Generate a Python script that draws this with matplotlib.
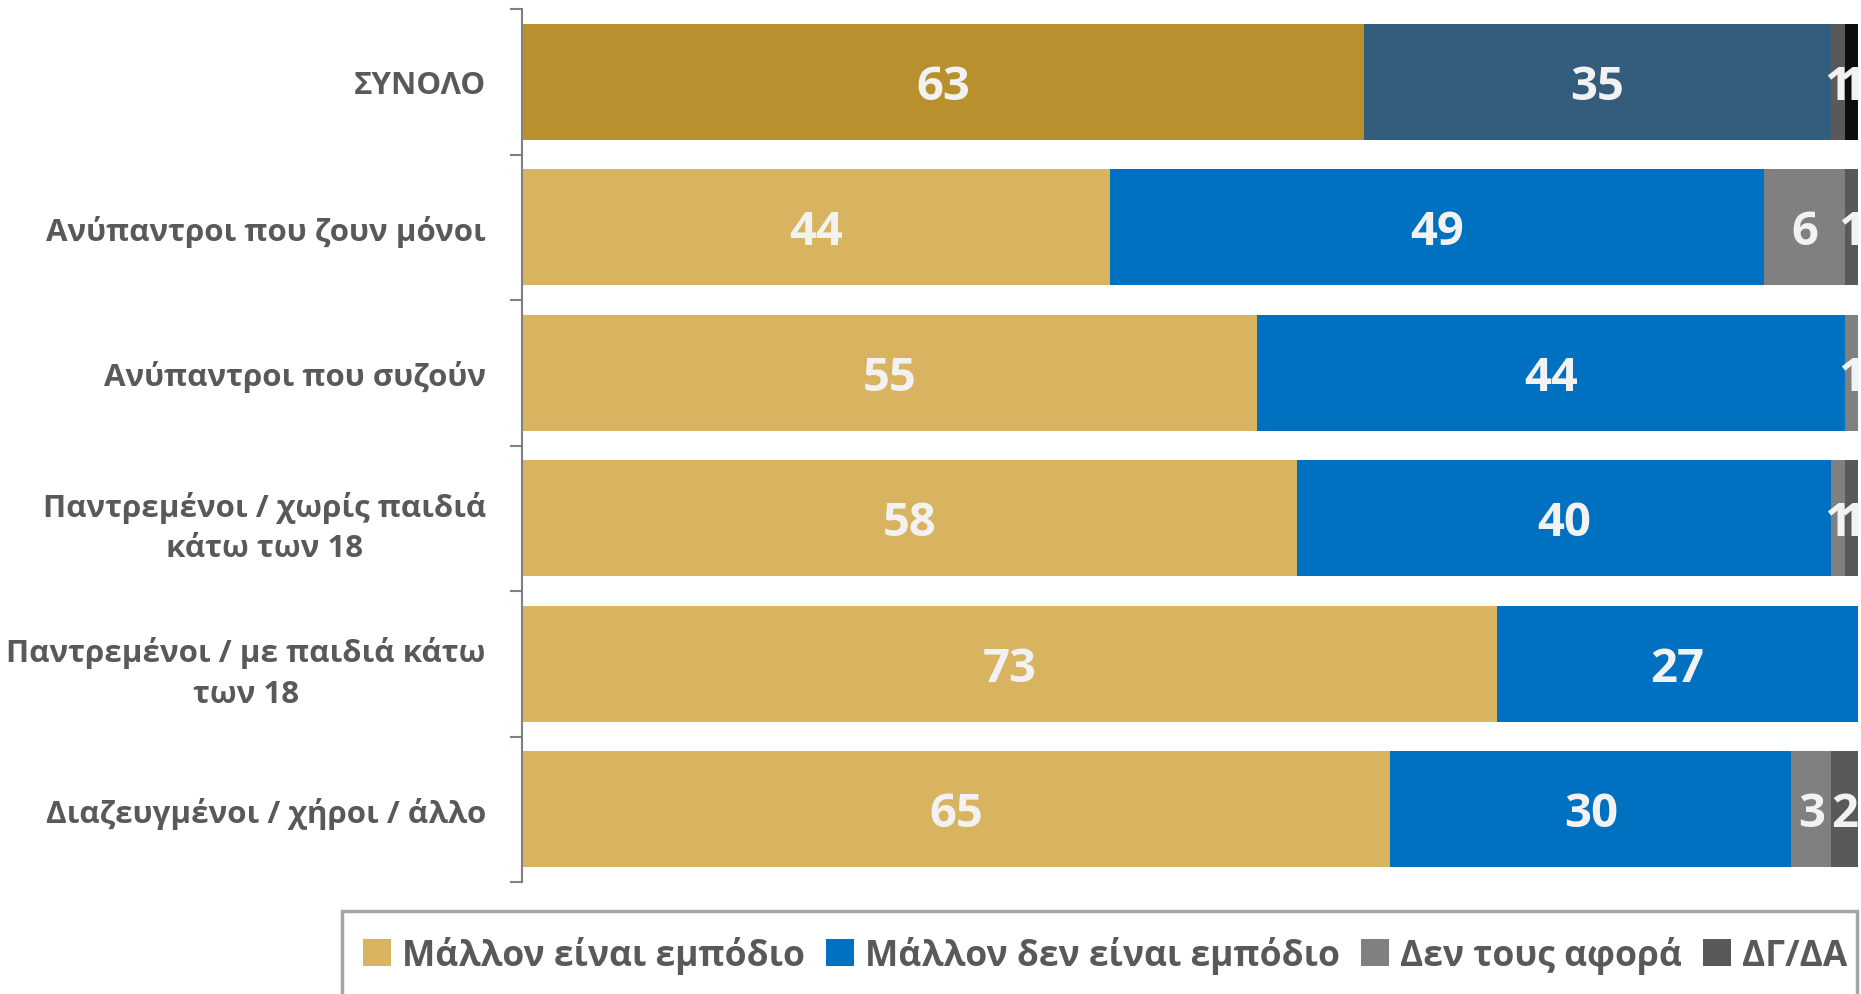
import matplotlib
matplotlib.use("Agg")
import matplotlib.pyplot as plt
from matplotlib.patches import Rectangle, Patch
import numpy as np

plt.rcParams['font.family'] = ['Open Sans', 'DejaVu Sans']

categories = [
    "ΣΥΝΟΛΟ",
    "Ανύπαντροι που ζουν μόνοι",
    "Ανύπαντροι που συζούν",
    "Παντρεμένοι / χωρίς παιδιά\nκάτω των 18",
    "Παντρεμένοι / με παιδιά κάτω\nτων 18",
    "Διαζευγμένοι / χήροι / άλλο",
]
series_names = ["Μάλλον είναι εμπόδιο", "Μάλλον δεν είναι εμπόδιο", "Δεν τους αφορά", "ΔΓ/ΔΑ"]
obstacle = [63, 44, 55, 58, 73, 65]
not_obstacle = [35, 49, 44, 40, 27, 30]
not_concerned = [1, 6, 1, 1, 0, 3]
dk_na = [1, 1, 0, 1, 0, 2]

series_values = [obstacle, not_obstacle, not_concerned, dk_na]
colors = ["#D8B360", "#0070C0", "#808080", "#595959"]
total_colors = ["#B8902E", "#335C7D", "#595959", "#0D0D0D"]

label_color = "#595959"
value_color = "#F2F2F2"

fig = plt.figure(figsize=(18.61, 9.95), dpi=100)
ax = fig.add_axes([522 / 1861, 112 / 995, 1336 / 1861, 873 / 995])

y = np.arange(len(categories))
left = np.zeros(len(categories))
for s, vals in enumerate(series_values):
    vals = np.array(vals, dtype=float)
    cols = [total_colors[s] if i == 0 else colors[s] for i in range(len(categories))]
    ax.barh(y, vals, left=left, height=0.8, color=cols, edgecolor="none")
    for i, v in enumerate(vals):
        if v > 0:
            ax.text(left[i] + v / 2, y[i] + 0.03, f"{int(v)}", ha="center", va="center",
                    color=value_color, fontsize=34, fontweight="bold", clip_on=False)
    left += vals

ax.set_xlim(0, 100)
ax.set_ylim(len(categories) - 0.5, -0.5)
ax.set_yticks(y)
ax.set_yticklabels(categories, fontsize=22.5, fontweight="bold", color=label_color,
                   multialignment="center", linespacing=1.45)
ax.tick_params(axis="y", which="major", length=0, pad=26)
ax.set_yticks(np.arange(-0.5, len(categories), 1.0), minor=True)
ax.tick_params(axis="y", which="minor", length=9, width=1.5, color="#808080")
ax.set_xticks([])
for side in ["top", "right", "bottom"]:
    ax.spines[side].set_visible(False)
ax.spines["left"].set_color("#808080")
ax.spines["left"].set_linewidth(1.5)

# Legend frame, running off the bottom and right of the figure
frame = Rectangle((342 / 1861, -0.05), 1515 / 1861, (83 / 995) + 0.05,
                  transform=fig.transFigure, facecolor="white",
                  edgecolor="#A6A6A6", linewidth=2.5, zorder=0)
fig.patches.append(frame)

handles = [Patch(facecolor=c, edgecolor="none") for c in colors]
leg = fig.legend(handles, series_names, loc="center", ncol=4,
                 bbox_to_anchor=(1105 / 1861, 1 - 956 / 995),
                 frameon=False, fontsize=25.5, handlelength=0.8, handleheight=0.8,
                 handletextpad=0.3, columnspacing=0.6)
for t in leg.get_texts():
    t.set_color(label_color)
    t.set_fontweight("bold")

fig.savefig("out.png", dpi=100)
